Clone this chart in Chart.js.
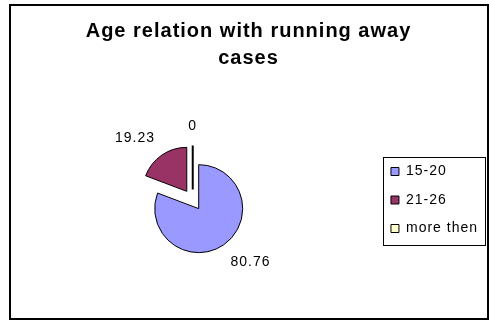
<!DOCTYPE html>
<html>
<head>
<meta charset="utf-8">
<script src="https://cdn.jsdelivr.net/npm/chart.js@4"></script>
<style>
  html, body { margin: 0; padding: 0; background: #fff; }
  canvas { display: block; }
</style>
</head>
<body>
<canvas id="chart" width="490" height="321"></canvas>
<script>
const titleLines = ["Age relation with running away", "cases"];
const categories = ["15-20", "21-26", "more then"];
const values = [80.76, 19.23, 0];
const sliceColors = ["#9999FF", "#993366", "#FFFFCC"];

const EXPLODE = 10.5; // every slice pulled out a little, like the Excel "exploded pie"
const FONT = "'Liberation Sans', Arial, sans-serif";

// Excel text renders a bit wider than canvas Arial
const spacing = {
  id: "spacing",
  beforeLayout(chart) { chart.ctx.letterSpacing = "1px"; },
  beforeDraw(chart) { chart.ctx.letterSpacing = "1px"; },
};

const frame = {
  id: "frame",
  beforeDraw(chart) {
    const ctx = chart.ctx;
    ctx.save();
    ctx.fillStyle = "#fff";
    ctx.fillRect(0, 0, chart.width, chart.height);
    ctx.strokeStyle = "#000";
    ctx.lineWidth = 2;
    ctx.strokeRect(10, 5, 478, 314);
    ctx.restore();
  },
  afterDraw(chart) {
    // box round the legend
    const hb = chart.legend.legendHitBoxes;
    if (!hb || !hb.length) return;
    const last = hb[hb.length - 1];
    const left = hb[0].left - 8;
    const top = hb[0].top - 8;
    const bottom = last.top + last.height + 9;
    const ctx = chart.ctx;
    ctx.save();
    ctx.strokeStyle = "#000";
    ctx.lineWidth = 1;
    ctx.strokeRect(Math.round(left) + 0.5, Math.round(top) + 0.5, 102, Math.round(bottom - top));
    ctx.restore();
  },
};

const explode = {
  id: "explode",
  beforeDatasetDraw(chart, args) {
    const ctx = chart.ctx;
    args.meta.data.forEach((arc) => {
      const mid = (arc.startAngle + arc.endAngle) / 2;
      ctx.save();
      ctx.translate(Math.cos(mid) * EXPLODE, Math.sin(mid) * EXPLODE);
      if (arc.circumference > 0) {
        arc.draw(ctx);
      } else {
        // zero slice: Excel still draws its edge
        ctx.strokeStyle = "#000";
        ctx.lineWidth = 2;
        ctx.beginPath();
        ctx.moveTo(arc.x, arc.y);
        ctx.lineTo(arc.x + Math.cos(arc.startAngle) * arc.outerRadius,
                   arc.y + Math.sin(arc.startAngle) * arc.outerRadius);
        ctx.stroke();
      }
      ctx.restore();
    });
    return false;
  },
  afterDatasetsDraw(chart) {
    const ctx = chart.ctx;
    const meta = chart.getDatasetMeta(0);
    ctx.save();
    ctx.font = "14px " + FONT;
    ctx.fillStyle = "#000";
    ctx.textAlign = "center";
    ctx.textBaseline = "middle";
    meta.data.forEach((arc, i) => {
      const mid = (arc.startAngle + arc.endAngle) / 2;
      const cos = Math.cos(mid), sin = Math.sin(mid);
      const d = EXPLODE + arc.outerRadius + 12;
      const text = String(values[i]);
      const w = ctx.measureText(text).width;
      const sx = Math.abs(cos) < 0.05 ? 0 : Math.sign(cos);
      const sy = Math.abs(sin) < 0.05 ? 0 : Math.sign(sin);
      ctx.fillText(text, arc.x + cos * d + sx * w / 2, arc.y + sin * d + sy * 7);
    });
    ctx.restore();
  },
};

new Chart(document.getElementById("chart"), {
  type: "pie",
  data: {
    labels: categories,
    datasets: [{
      data: values,
      backgroundColor: sliceColors,
      borderColor: "#000",
      borderWidth: 1,
      borderJoinStyle: "miter",
      radius: 44,
    }],
  },
  options: {
    responsive: false,
    animation: false,
    layout: { padding: { left: 9, right: 2, top: 6, bottom: 3 } },
    plugins: {
      tooltip: { enabled: false },
      title: {
        display: true,
        text: titleLines,
        color: "#000",
        font: { family: FONT, size: 20, weight: "bold", lineHeight: 1.35 },
        padding: { top: 12, bottom: 10 },
      },
      legend: {
        position: "right",
        fullSize: false,
        labels: {
          color: "#000",
          font: { family: FONT, size: 14, lineHeight: 1.2 },
          boxWidth: 8,
          boxHeight: 8,
          padding: 14.5,
        },
      },
    },
  },
  plugins: [spacing, frame, explode],
});
</script>
</body>
</html>
